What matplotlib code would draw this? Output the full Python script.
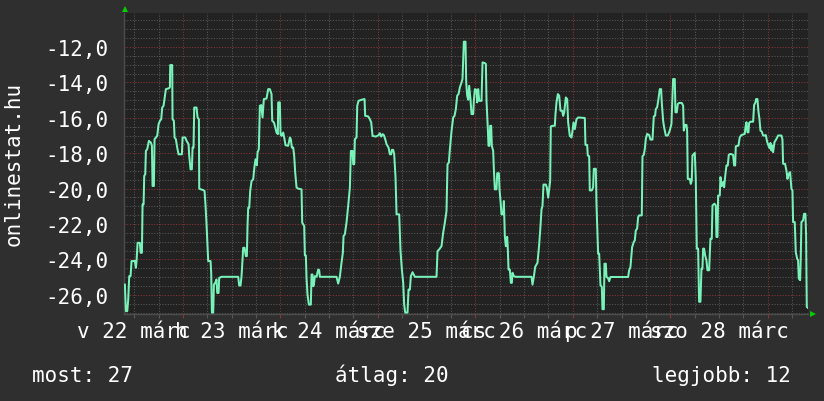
import matplotlib
matplotlib.use('Agg')
import matplotlib.pyplot as plt
from matplotlib.ticker import MultipleLocator, FuncFormatter, FixedLocator, NullFormatter
import matplotlib.transforms as mtransforms

# ---- data: hours since 22 March 00:00, rank (negated) ----
hours = [
    9.72, 9.97, 10.30, 10.54, 10.79, 11.12, 11.36, 12.18, 12.43, 12.59,
    12.84, 13.41, 13.58, 13.91, 14.07, 14.32, 14.48, 14.73, 14.89, 15.22,
    15.63, 16.12, 16.37, 16.53, 16.86, 17.02, 17.35, 17.68, 18.01, 18.34,
    18.66, 18.91, 19.24, 19.48, 19.81, 20.47, 20.80, 20.88, 21.37, 21.45,
    21.78, 21.95, 22.27, 22.60, 22.93, 23.75, 23.92, 24.57, 24.90, 25.39,
    25.56, 25.88, 26.21, 26.38, 26.62, 26.79, 27.36, 27.61, 27.94, 28.02,
    28.43, 29.00, 29.33, 29.58, 29.82, 30.07, 30.23, 30.81, 30.97, 31.14,
    31.46, 31.63, 31.96, 32.28, 32.45, 32.78, 32.94, 33.51, 37.62, 37.86,
    38.19, 38.44, 38.68, 38.85, 39.18, 39.50, 39.75, 39.91, 40.08, 40.33,
    40.57, 40.90, 41.31, 41.64, 41.88, 42.21, 42.38, 42.70, 42.95, 43.28,
    43.61, 43.77, 43.93, 44.59, 45.00, 45.41, 45.82, 45.99, 46.40, 46.64,
    47.05, 47.38, 47.46, 47.87, 48.04, 48.28, 48.69, 48.94, 49.27, 49.92,
    50.34, 50.58, 50.83, 51.16, 51.40, 51.65, 51.98, 52.39, 53.21, 53.37,
    53.86, 54.03, 54.27, 54.44, 54.68, 55.01, 55.50, 55.67, 55.91, 56.08,
    56.24, 56.49, 56.90, 57.31, 57.55, 57.72, 61.82, 62.23, 62.64, 63.05,
    63.38, 63.55, 63.87, 64.28, 64.69, 65.11,
    65.36, 65.77, 65.93, 66.18, 66.34, 66.75, 66.92, 67.24, 67.98, 68.72,
    68.88, 69.62, 70.03, 70.36, 70.53, 70.69, 71.51, 72.17, 72.49, 72.82,
    73.15, 73.48, 73.81, 74.14, 74.63, 74.96, 75.28, 75.45, 75.78, 76.02,
    76.35, 76.60, 77.25, 77.58, 77.91, 78.24, 78.48, 78.73, 79.30, 79.55,
    79.88, 80.13, 80.54, 81.11, 86.44, 86.69, 87.10, 87.67, 88.08, 88.49,
    88.90, 89.15, 89.48, 89.73, 90.14, 90.55, 90.87, 91.20, 91.53, 91.86,
    92.19, 92.60, 92.84, 93.17, 93.58, 93.75, 93.99, 94.24, 94.48, 94.81,
    95.06, 95.47, 95.63, 95.88, 96.29, 96.45, 96.70, 96.95, 97.52, 97.77,
    98.34, 98.59, 98.75, 99.08, 99.24, 99.49, 99.65, 99.90, 100.06, 100.39,
    100.56, 100.80, 101.21, 101.38, 101.79, 101.95, 102.20, 102.44, 102.85, 103.02,
    103.26, 103.51, 103.84, 104.00, 104.17, 104.49, 104.74, 104.99, 105.15, 105.48,
    105.89, 109.83, 110.07, 110.40, 110.73, 111.06, 111.30, 111.72, 112.04, 112.29,
    112.53, 112.78, 113.35, 113.60, 113.93, 114.17, 114.42, 114.58, 114.99, 115.57,
    115.73, 115.98, 116.31, 116.64, 116.97, 117.38, 117.62, 117.87, 118.28, 118.61,
    118.85, 119.26, 119.67, 119.92, 120.17, 120.49, 120.90, 121.31, 122.95,
    123.11, 123.52, 123.69, 124.02, 124.18, 124.67, 125.00, 125.17, 125.66, 125.82,
    126.23, 126.48, 126.81, 127.14, 127.30, 127.63, 127.79, 128.12, 128.28, 128.69,
    128.94, 129.27, 133.62, 133.86, 134.19, 134.60, 135.01, 135.26, 135.50, 135.83,
    136.08, 136.32, 136.98, 137.15, 137.47, 137.72, 137.97, 138.29, 138.79, 139.11,
    139.61, 139.94, 140.26, 140.43, 140.76, 141.08, 141.41, 141.74, 141.90, 142.23,
    142.48, 142.89, 143.38, 143.87, 144.28, 144.69, 145.10, 145.27, 145.60, 145.84,
    146.17, 146.83, 147.16, 147.32, 147.65, 147.98, 148.14, 148.30, 148.80, 149.04,
    149.29, 149.45, 149.78, 150.03, 150.27, 150.52, 150.85, 151.09, 151.42, 151.67,
    151.91, 152.08, 152.32, 152.57, 152.90, 153.14, 153.56, 153.88, 154.21, 154.38,
    154.87, 155.20, 155.36, 155.61, 155.77, 156.18, 156.35, 156.67, 157.00, 157.25,
    157.49, 157.82, 158.15, 158.40, 158.81, 159.46, 159.71, 159.96, 160.12, 160.78,
    161.10, 161.51, 162.33, 162.50, 162.75, 162.99, 163.24, 163.40, 163.73, 164.39,
    164.63, 164.96, 165.12, 165.45, 165.70, 165.95, 166.19, 166.52, 166.85, 167.26,
    167.50, 167.83, 168.16, 168.49, 168.65, 168.90, 169.14, 169.31, 169.64, 170.13,
    170.54, 171.36, 171.61, 171.77, 172.26, 172.59, 172.84, 173.17, 173.49, 173.82,
    174.07, 174.23, 174.64, 174.89, 175.22, 175.46, 175.63, 175.96, 176.12, 176.28,
    176.69, 176.94, 177.27, 177.43, 177.60, 177.85,
]

rank = [
    -25.42, -26.92, -26.92, -26.26, -24.94, -24.94, -24.09, -24.09, -24.47, -24.09,
    -23.06, -23.06, -23.62, -23.62, -20.89, -20.89, -19.28, -19.19, -17.87, -17.77,
    -17.30, -17.40, -17.58, -19.85, -19.85, -17.21, -17.11, -17.02, -16.36, -16.17,
    -16.08, -15.42, -15.32, -14.94, -14.38, -14.34, -14.28, -13.02, -13.02, -16.08,
    -16.17, -17.11, -17.21, -17.68, -18.06, -18.06, -17.11, -17.11, -17.30, -17.49,
    -18.15, -18.91, -18.91, -17.68, -17.68, -15.42, -15.42, -15.98, -16.08, -20.00,
    -20.04, -20.08, -20.13, -20.98, -22.02, -23.25, -24.09, -24.09, -24.75, -27.00,
    -27.00, -25.42, -25.32, -25.13, -25.89, -25.89, -25.04, -24.98, -24.98, -25.47,
    -25.47, -24.94, -24.00, -23.34, -23.34, -23.81, -23.81, -22.11, -21.08, -21.08,
    -20.13, -19.57, -19.47, -18.72, -18.34, -18.68, -17.96, -17.77, -15.32, -15.28,
    -15.98, -15.42, -14.94, -14.91, -14.38, -14.38, -14.66, -16.17, -16.26, -16.45,
    -16.83, -16.92, -15.13, -15.13, -16.92, -17.02, -16.83, -17.11, -17.55, -17.58,
    -17.11, -17.21, -17.68, -17.68, -18.15, -19.09, -19.94, -20.00, -20.04, -21.92,
    -22.11, -23.77, -23.77, -25.04, -25.98, -26.55, -26.55, -24.85, -24.85, -25.51,
    -25.42, -24.94, -24.98, -24.57, -24.60, -24.98, -24.98, -25.36, -24.98, -24.19,
    -23.62, -22.68, -22.58, -21.92, -20.98, -19.95,
    -17.87, -17.87, -18.62, -18.62, -17.21, -17.11, -15.32, -15.04, -14.98, -14.94,
    -15.89, -15.92, -16.08, -16.26, -16.64, -17.02, -17.06, -16.98, -16.87, -17.06,
    -16.92, -16.98, -17.21, -17.49, -17.68, -18.06, -18.06, -17.81, -17.81, -18.06,
    -19.38, -21.45, -21.45, -23.53, -24.57, -25.32, -26.55, -27.00, -27.00, -25.70,
    -25.70, -24.94, -24.72, -24.98, -24.98, -23.53, -23.43, -23.25, -22.49, -21.92,
    -21.26, -18.62, -18.53, -17.77, -16.74, -15.98, -15.89, -15.51, -14.75, -14.66,
    -14.28, -14.00, -13.81, -11.70, -11.70, -14.00, -14.75, -14.98, -14.19, -14.98,
    -15.79, -15.79, -15.04, -14.38, -14.42, -15.13, -14.38, -15.04, -15.04, -12.87,
    -12.91, -12.96, -15.04, -16.64, -17.58, -17.58, -16.45, -16.45, -17.58, -17.87,
    -18.91, -20.04, -20.04, -19.13, -19.13, -20.04, -20.70, -21.45, -21.45, -20.70,
    -22.68, -23.25, -22.72, -23.43, -24.57, -24.57, -25.32, -25.32, -24.75, -24.94,
    -24.98, -24.98, -25.42, -24.98, -24.42, -24.28, -24.19, -23.15, -22.11, -21.17,
    -20.98, -19.77, -19.77, -19.94, -20.51, -20.04, -19.57, -16.49, -16.45, -16.45,
    -15.79, -15.13, -14.66, -14.75, -15.60, -15.60, -15.89, -15.70, -14.85, -14.94,
    -16.26, -17.02, -17.11, -16.74, -16.26, -16.64, -16.08, -15.98, -16.01,
    -17.53, -17.53, -18.13, -18.17, -20.10, -20.10, -19.92, -18.88, -18.88, -20.85,
    -23.67, -23.67, -25.46, -25.55, -26.81, -26.81, -24.24, -24.24, -24.99, -25.05,
    -25.23, -24.99, -24.99, -24.61, -24.42, -23.30, -23.01, -22.92, -22.36, -22.26,
    -21.61, -21.51, -21.51, -18.17, -18.09, -17.76, -17.19, -16.91, -16.97, -17.23,
    -17.23, -15.92, -15.88, -15.50, -15.41, -14.94, -14.38, -14.38, -15.13, -16.16,
    -16.54, -17.00, -17.00, -16.72, -16.35, -13.81, -13.81, -15.69, -15.69, -15.22,
    -15.16, -15.16, -15.31, -16.72, -16.40, -16.40, -16.72, -19.45, -19.45, -19.73,
    -19.54, -18.13, -18.04, -17.98, -19.45, -23.39, -23.39, -26.39, -26.39, -24.52,
    -24.52, -23.39, -23.39, -23.77, -24.05, -24.61, -24.61, -22.83, -22.83, -20.95,
    -20.85, -20.95, -22.73, -22.73, -20.39, -20.39, -19.35, -19.86, -19.63, -19.92,
    -19.35, -18.69, -18.69, -18.09, -18.04, -18.09, -18.69, -18.69, -17.61, -17.57,
    -17.10, -16.97, -16.91, -16.54, -16.25, -16.82, -16.82, -16.29, -16.22, -16.22,
    -15.28, -15.13, -14.94, -14.94, -15.65, -16.07, -16.72, -16.78, -17.00, -17.00,
    -16.97, -17.34, -17.57, -17.72, -17.42, -17.85, -17.57, -17.94, -17.38, -17.19,
    -17.00, -17.00, -17.23, -18.60, -18.60, -18.98, -19.45, -19.16, -19.07, -20.01,
    -20.10, -21.89, -21.89, -23.58, -23.95, -24.05, -25.08, -25.17, -23.86, -21.89,
    -21.79, -21.42, -21.42, -22.64, -26.68, -26.73,
]

day_label_hours = [12, 36, 60, 84, 108, 132, 156]
day_labels = ["v 22 márc", "h 23 márc", "k 24 márc", "sze 25 márc",
              "cs 26 márc", "p 27 márc", "szo 28 márc"]
midnight_hours = [24, 48, 72, 96, 120, 144, 168]
y_title = "onlinestat.hu"
legend_texts = ["most: 27", "átlag: 20", "legjobb: 12"]

# ---- style ----
W, H = 824, 402
FONT = "DejaVu Sans Mono"
FS = 15
BG = "#2f2f2f"
CANVAS = "#222222"
LINE = "#78f2b9"
GRID_MINOR = "#585858"
GRID_MAJOR = "#8c3434"
ARROW = "#00d000"

n = min(len(hours), len(rank))

fig = plt.figure(figsize=(W / 100, H / 100), dpi=100, facecolor=BG)
ax = fig.add_axes([124 / W, 87 / H, 684 / W, 301 / H])
ax.set_facecolor(CANVAS)

ax.set_xlim(9.5, 177.9)
ax.set_ylim(-27.08, -10.08)

ax.xaxis.set_major_locator(FixedLocator(midnight_hours))
ax.xaxis.set_minor_locator(MultipleLocator(6))
ax.yaxis.set_major_locator(MultipleLocator(2))
ax.yaxis.set_minor_locator(MultipleLocator(0.5))

ax.grid(which='minor', color=GRID_MINOR, ls=(0, (1, 1.6)), lw=0.75)
ax.grid(which='major', color=GRID_MAJOR, ls=(0, (1, 1.6)), lw=0.75)
ax.set_axisbelow(True)

ax.plot(hours[:n], rank[:n], color=LINE, lw=1.45, solid_joinstyle='round', zorder=3)

ax.xaxis.set_major_formatter(NullFormatter())
ax.xaxis.set_minor_formatter(NullFormatter())
ax.tick_params(axis='x', which='major', direction='out', length=3, color=GRID_MAJOR, width=0.8)
ax.tick_params(axis='x', which='minor', direction='out', length=3, color=GRID_MINOR, width=0.8)
ax.tick_params(axis='y', which='both', length=0, pad=11.5, labelcolor='white', labelsize=FS)
ax.yaxis.set_major_formatter(FuncFormatter(lambda v, p: f"{v:.1f}".replace('.', ',')))
for lab in ax.get_yticklabels():
    lab.set_family(FONT)

for s in ('top', 'right'):
    ax.spines[s].set_visible(False)
for s in ('left', 'bottom'):
    ax.spines[s].set_color('#4c4c4c')
    ax.spines[s].set_linewidth(1.0)

trans = mtransforms.blended_transform_factory(ax.transData, ax.transAxes)
for h, lab in zip(day_label_hours, day_labels):
    ax.text(h, -0.0764, lab, transform=trans, ha='center', va='baseline',
            color='white', fontsize=FS, family=FONT)

# axis arrows
ax.plot([0.0015], [1.013], marker='^', color=ARROW, markersize=5, transform=ax.transAxes,
        clip_on=False, zorder=5, markeredgewidth=0)
ax.plot([1.007], [0.0], marker='>', color=ARROW, markersize=5, transform=ax.transAxes,
        clip_on=False, zorder=5, markeredgewidth=0)

fig.text(14 / W, 0.593, y_title, rotation=90, ha='center', va='center',
         color='white', fontsize=FS, family=FONT)

fig.text(32 / W, 20 / H, legend_texts[0], ha='left', va='baseline', color='white', fontsize=FS, family=FONT)
fig.text(335 / W, 20 / H, legend_texts[1], ha='left', va='baseline', color='white', fontsize=FS, family=FONT)
fig.text(791 / W, 20 / H, legend_texts[2], ha='right', va='baseline', color='white', fontsize=FS, family=FONT)

fig.savefig("out.png", dpi=100, facecolor=BG)
